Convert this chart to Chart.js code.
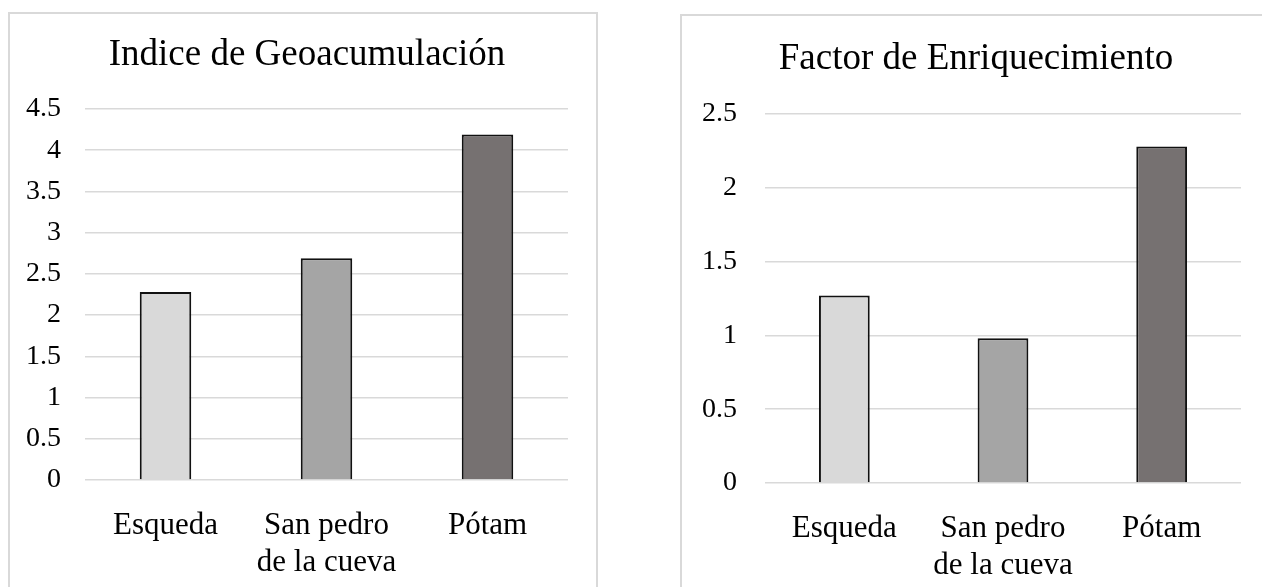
<!DOCTYPE html>
<html>
<head>
<meta charset="utf-8">
<script src="https://cdn.jsdelivr.net/npm/chart.js@4"></script>
<style>
  html, body { margin: 0; padding: 0; background: #ffffff; }
  body { width: 1262px; height: 587px; overflow: hidden; position: relative; }
  .frame { position: absolute; box-sizing: border-box; border: 2px solid #d9d9d9; background: transparent; }
  canvas { position: absolute; top: 0; }
</style>
</head>
<body>
<div class="frame" style="left:8px; top:12px; width:590px; height:700px;"></div>
<div class="frame" style="left:680px; top:14px; width:700px; height:700px;"></div>
<canvas id="geo" width="596" height="587" style="left:9px; width:596px; height:587px;"></canvas>
<canvas id="fe" width="590" height="587" style="left:681px; width:590px; height:587px;"></canvas>
<script>
// Sites sampled
const sites = ["Esqueda", ["San pedro", "de la cueva"], "Pótam"];
const siteColors = ["#d9d9d9", "#a5a5a5", "#767171"];

// Índice de Geoacumulación per site
const geoValues = [2.28, 2.69, 4.19];
const geoTicks = [0, 0.5, 1, 1.5, 2, 2.5, 3, 3.5, 4, 4.5];

// Factor de Enriquecimiento per site
const feValues = [1.27, 0.98, 2.28];
const feTicks = [0, 0.5, 1, 1.5, 2, 2.5];

const serif = "'Liberation Serif', 'Times New Roman', serif";

// g: title spacing, axis box sizes, right-hand margin and tick label gap
function makeChart(canvasId, title, values, ticks, g) {
  const max = ticks[ticks.length - 1];
  return new Chart(document.getElementById(canvasId), {
    type: 'bar',
    data: {
      labels: sites,
      datasets: [{
        data: values,
        backgroundColor: siteColors,
        borderColor: '#111111',
        borderWidth: 2,
        borderSkipped: 'start',
        categoryPercentage: 1,
        barPercentage: 0.32
      }]
    },
    options: {
      responsive: false,
      animation: false,
      devicePixelRatio: 1,
      layout: { padding: 0 },
      plugins: {
        legend: { display: false },
        tooltip: { enabled: false },
        title: {
          display: true,
          text: title,
          color: '#000000',
          font: { family: serif, size: 37, weight: 'normal', lineHeight: 1.2 },
          padding: { top: g.titleTop, bottom: g.titleBottom }
        }
      },
      scales: {
        x: {
          grid: { display: false },
          border: { display: false },
          ticks: {
            color: '#000000',
            padding: 20,
            maxRotation: 0,
            autoSkip: false,
            font: { family: serif, size: 31, lineHeight: 1.17 }
          },
          afterFit: (s) => { s.height = g.xHeight; }
        },
        y: {
          min: 0,
          max: max,
          grid: { color: '#d9d9d9', lineWidth: 1.6, drawTicks: false },
          border: { display: false },
          afterBuildTicks: (s) => { s.ticks = ticks.map(v => ({ value: v })); },
          ticks: {
            color: '#000000',
            padding: g.yPad,
            font: { family: serif, size: 28 },
            callback: (v) => String(v)
          },
          afterFit: (s) => { s.width = g.yWidth; }
        },
        // empty right-hand margin inside the frame
        margin: {
          type: 'linear',
          position: 'right',
          display: true,
          grid: { display: false },
          border: { display: false },
          ticks: { display: false },
          afterFit: (s) => { s.width = g.rightWidth; }
        }
      }
    }
  });
}

makeChart('geo', 'Indice de Geoacumulación', geoValues, geoTicks,
  { titleTop: 33, titleBottom: 31.6, xHeight: 107, yWidth: 76, rightWidth: 37, yPad: 24 });

makeChart('fe', 'Factor de Enriquecimiento', feValues, feTicks,
  { titleTop: 36.8, titleBottom: 32.8, xHeight: 104, yWidth: 84, rightWidth: 30, yPad: 28 });
</script>
</body>
</html>
